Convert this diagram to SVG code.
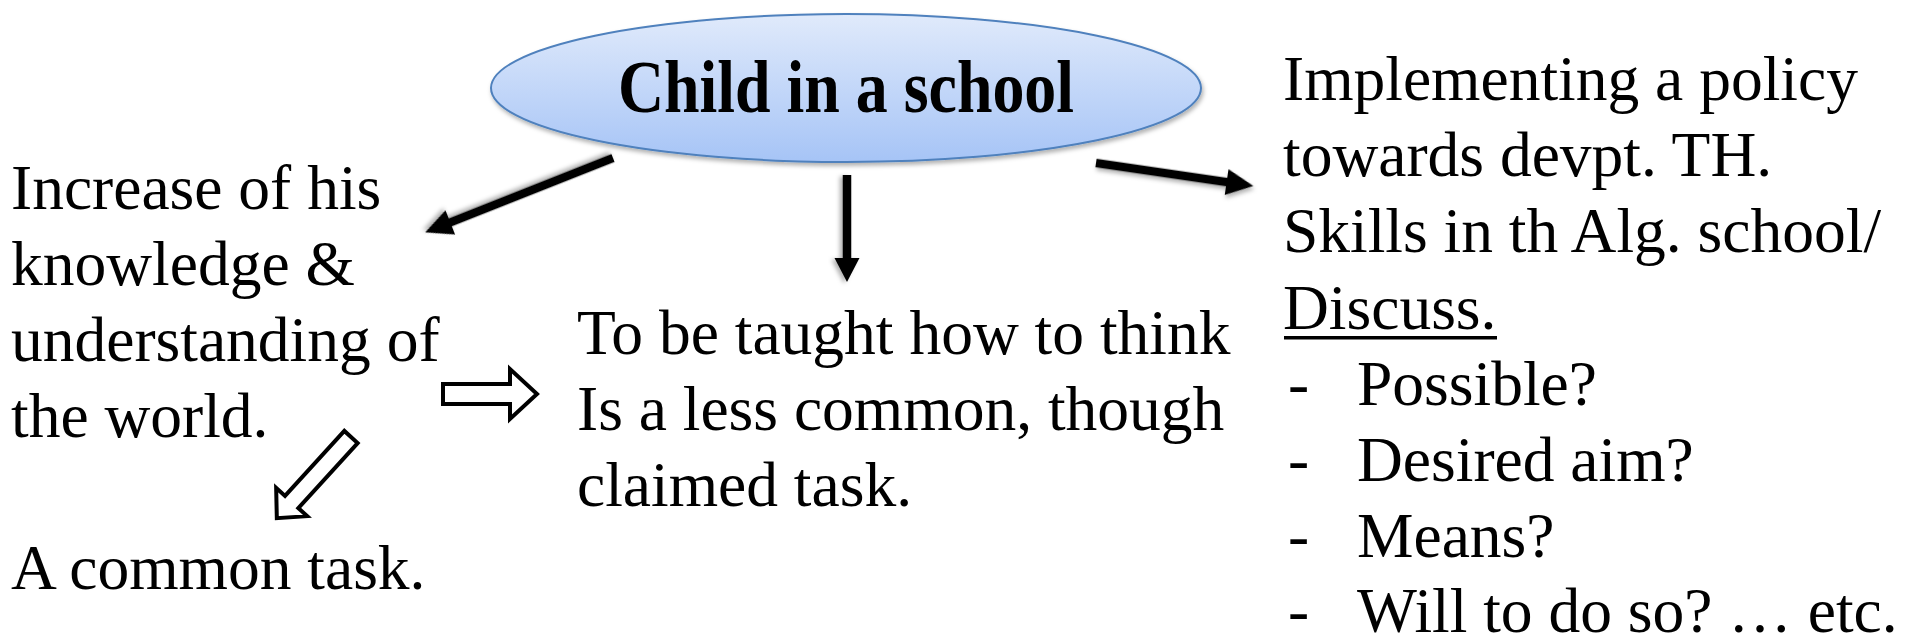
<svg xmlns="http://www.w3.org/2000/svg" width="1905" height="639" viewBox="0 0 1905 639">
  <defs>
    <linearGradient id="ovalFill" x1="0" y1="0" x2="0" y2="1">
      <stop offset="0" stop-color="#e0eafb"/>
      <stop offset="1" stop-color="#a6c4f6"/>
    </linearGradient>
    <filter id="softShadow" x="-20%" y="-30%" width="140%" height="170%">
      <feDropShadow dx="1.5" dy="3" stdDeviation="2" flood-color="#000" flood-opacity="0.3"/>
    </filter>
    <style>
      .txt { font-family: "Liberation Serif", "Times New Roman", serif; font-size: 63.5px; fill: #000; }
      .title { font-family: "Liberation Serif", "Times New Roman", serif; font-size: 73px; font-weight: bold; fill: #000; }
      .solid { fill: #000; filter: url(#softShadow); }
      .hollow { fill: #fff; stroke: #000; stroke-width: 4; stroke-linejoin: miter; }
    </style>
  </defs>

  <rect width="1905" height="639" fill="#fff"/>

  <!-- central oval -->
  <g id="node-child">
    <ellipse cx="846" cy="88" rx="355" ry="74" fill="url(#ovalFill)" stroke="#4f81bd" stroke-width="2" filter="url(#softShadow)"/>
    <text class="title" transform="translate(846,112) scale(0.875,1)" text-anchor="middle">Child in a school</text>
  </g>

  <!-- left branch -->
  <g id="node-knowledge">
    <text class="txt" x="11" y="209">Increase of his</text>
    <text class="txt" x="11" y="285">knowledge &amp;</text>
    <text class="txt" x="11" y="361">understanding of</text>
    <text class="txt" x="11" y="437">the world.</text>
  </g>

  <g id="node-common">
    <text class="txt" x="11" y="589">A common task.</text>
  </g>

  <!-- middle branch -->
  <g id="node-think">
    <text class="txt" x="577" y="354">To be taught how to think</text>
    <text class="txt" x="577" y="430">Is a less common, though</text>
    <text class="txt" x="577" y="506">claimed task.</text>
  </g>

  <!-- right branch -->
  <g id="node-policy">
    <text class="txt" x="1283" y="100">Implementing a policy</text>
    <text class="txt" x="1283" y="176">towards devpt. TH.</text>
    <text class="txt" x="1283" y="252">Skills in th Alg. school/</text>
    <text class="txt" x="1283" y="329">Discuss.</text>
    <rect x="1284" y="336" width="213" height="3.5" fill="#000"/>
    <text class="txt" x="1288" y="405">-</text>
    <text class="txt" x="1357" y="405">Possible?</text>
    <text class="txt" x="1288" y="481">-</text>
    <text class="txt" x="1357" y="481">Desired aim?</text>
    <text class="txt" x="1288" y="557">-</text>
    <text class="txt" x="1357" y="557">Means?</text>
    <text class="txt" x="1288" y="632">-</text>
    <text class="txt" x="1357" y="632">Will to do so? … etc.</text>
  </g>

  <!-- connectors -->
  <g id="connectors">
    <path class="solid" transform="translate(613,158) rotate(158.4)" d="M0,-4.2 L175,-4.2 L175,-13 L202,0 L175,13 L175,4.2 L0,4.2 Z"/>
    <path class="solid" transform="translate(847,175) rotate(90)" d="M0,-4.2 L83,-4.2 L83,-12.5 L107,0 L83,12.5 L83,4.2 L0,4.2 Z"/>
    <path class="solid" transform="translate(1096,163) rotate(8.3)" d="M0,-4.2 L132,-4.2 L132,-13 L159,0 L132,13 L132,4.2 L0,4.2 Z"/>
    <polygon class="hollow" points="443,384 510,384 510,369 537,394 510,419 510,404 443,404"/>
    <path class="hollow" transform="translate(351,437) rotate(132.4)" d="M0,-9 L88,-9 L88,-21 L110,0 L88,21 L88,9 L0,9 Z"/>
  </g>
</svg>
